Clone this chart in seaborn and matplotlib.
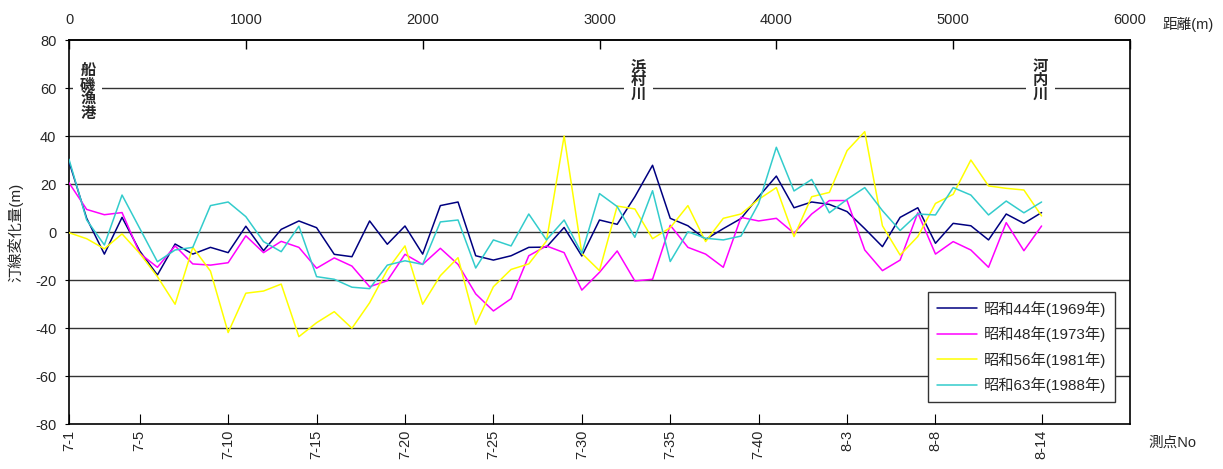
import matplotlib
matplotlib.use("Agg")
import matplotlib.pyplot as plt
import seaborn as sns
import pandas as pd

# ---------------- data ----------------
stations = [f"7-{i}" for i in range(1, 43)] + [f"8-{i}" for i in range(1, 15)]
distance_m = [0, 100, 200, 300, 400, 500, 600, 700, 800, 900,
              1000, 1100, 1200, 1300, 1400, 1500, 1600, 1700, 1800, 1900,
              2000, 2100, 2200, 2300, 2400, 2500, 2600, 2700, 2800, 2900,
              3000, 3100, 3200, 3300, 3400, 3500, 3600, 3700, 3800, 3900,
              4000, 4100, 4200, 4300, 4400, 4500, 4600, 4700, 4800, 4900,
              5000, 5100, 5200, 5300, 5400, 5500]

s1969 = [29.3, 5.7, -9.2, 6.1, -7.9, -17.9, -5.0, -9.2, -6.4, -8.6,
         2.4, -7.8, 1.1, 4.6, 1.8, -9.3, -10.3, 4.6, -5.1, 2.5,
         -9.2, 11.0, 12.5, -9.9, -11.7, -9.9, -6.4, -6.3, 1.9, -10.0,
         5.0, 3.2, 14.7, 27.8, 5.7, 2.6, -3.1, 1.4, 5.6, 14.7,
         23.3, 10.1, 12.5, 11.5, 8.5, 1.4, -6.1, 6.1, 10.1, -4.7,
         3.6, 2.6, -3.3, 7.5, 3.6, 8.1]
s1973 = [20.5, 9.4, 7.2, 8.1, -8.9, -14.7, -5.8, -13.3, -13.8, -12.8,
         -1.6, -8.6, -3.9, -6.4, -15.1, -10.8, -14.2, -22.8, -20.3, -9.3,
         -13.5, -6.8, -13.5, -25.8, -32.9, -27.8, -9.9, -5.8, -8.6, -24.2,
         -16.8, -7.9, -20.4, -19.7, 2.8, -6.4, -9.2, -14.7, 6.1, 4.6,
         5.7, -0.5, 7.5, 13.1, 13.1, -7.5, -16.1, -11.7, 8.0, -9.2,
         -4.0, -7.5, -14.7, 3.9, -7.8, 2.5]
s1981 = [-0.3, -2.8, -7.0, -0.8, -8.9, -18.6, -30.1, -6.4, -16.3, -41.9,
         -25.5, -24.6, -21.7, -43.6, -37.8, -33.2, -40.1, -29.5, -15.8, -5.8,
         -30.1, -18.2, -10.7, -38.5, -22.8, -15.6, -13.3, -3.8, 40.0, -8.9,
         -16.1, 10.8, 9.6, -2.8, 1.8, 11.0, -4.0, 5.7, 7.5, 13.6,
         18.5, -1.9, 14.7, 16.5, 33.9, 41.8, 2.6, -9.6, -1.9, 11.9,
         15.7, 30.0, 19.2, 18.2, 17.5, 6.7]
s1988 = [30.3, 5.0, -5.4, 15.4, 1.5, -12.4, -7.5, -6.4, 11.0, 12.5,
         6.4, -4.0, -8.2, 2.4, -18.6, -19.7, -23.0, -23.6, -13.8, -12.0,
         -13.5, 4.2, 5.0, -15.0, -3.3, -5.8, 7.5, -3.3, 5.0, -8.9,
         16.0, 10.6, -2.2, 17.2, -12.3, 0.1, -2.6, -3.3, -1.7, 11.9,
         35.3, 17.1, 21.9, 8.0, 13.6, 18.5, 8.9, 0.6, 7.5, 7.1,
         18.5, 15.4, 7.1, 12.9, 8.0, 12.5]

series_labels = ["昭和44年(1969年)", "昭和48年(1973年)", "昭和56年(1981年)", "昭和63年(1988年)"]
series_colors = ["#000080", "#FF00FF", "#FFFF00", "#33CCCC"]

tick_stations = ["7-1", "7-5", "7-10", "7-15", "7-20", "7-25", "7-30",
                 "7-35", "7-40", "8-3", "8-8", "8-14"]
top_ticks = [0, 1000, 2000, 3000, 4000, 5000, 6000]
y_ticks = [-80, -60, -40, -20, 0, 20, 40, 60, 80]

landmarks = ["船磯漁港", "浜村川", "河内川"]
landmark_x = [107, 3218, 5492]
landmark_y = [58, 63, 63]

# ---------------- frame ----------------
rows = []
for lab, vals in zip(series_labels, [s1969, s1973, s1981, s1988]):
    for st, d, v in zip(stations, distance_m, vals):
        rows.append({"station": st, "distance": d, "value": v, "series": lab})
df = pd.DataFrame(rows)

sns.set_style("white")
plt.rcParams["font.family"] = ["Liberation Sans", "Noto Sans CJK JP"]
plt.rcParams["axes.unicode_minus"] = False

fig = plt.figure(figsize=(12.23, 4.69), dpi=100)
ax = fig.add_axes([69 / 1223, 1 - 424 / 469, (1130 - 69) / 1223, (424 - 40) / 469])

for yv in y_ticks[1:-1]:
    ax.axhline(yv, color="#333333", lw=1.0, zorder=1)

sns.lineplot(data=df, x="distance", y="value", hue="series",
             palette=dict(zip(series_labels, series_colors)),
             hue_order=series_labels, lw=1.1, ax=ax, zorder=3, legend=True)

ax.set_xlim(0, 6000)
ax.set_ylim(-80, 80)
ax.set_yticks(y_ticks)
ax.set_yticklabels([str(v) for v in y_ticks], fontsize=10.5)
ax.tick_params(axis="y", direction="out", length=3, pad=6, left=True, color="black")

st_pos = [distance_m[stations.index(s)] for s in tick_stations]
ax.set_xticks(st_pos)
ax.set_xticklabels(tick_stations, rotation=90, fontsize=10.5, va="top")
ax.tick_params(axis="x", direction="in", length=7, pad=4, bottom=True, color="black")
ax.set_xlabel("")
ax.set_ylabel("汀線変化量(m)", fontsize=11)
ax.yaxis.set_label_coords(-0.043, 0.5)

secax = ax.secondary_xaxis("top")
secax.set_xticks(top_ticks)
secax.set_xticklabels([str(t) for t in top_ticks], fontsize=10.5)
secax.tick_params(direction="in", length=6.5, width=1.0, pad=9, color="black")
secax.spines["top"].set_linewidth(1.2)

for sp in ax.spines.values():
    sp.set_color("black")
    sp.set_linewidth(1.2)

for name, lx, ly in zip(landmarks, landmark_x, landmark_y):
    ax.text(lx, ly, "\n".join(name), ha="center", va="center", fontsize=11,
            fontweight="bold", linespacing=0.98, zorder=5,
            bbox=dict(facecolor="white", edgecolor="none", pad=5))

handles, labels = ax.get_legend_handles_labels()
leg = ax.legend(handles, labels, loc="lower right", bbox_to_anchor=(0.986, 0.057),
                borderaxespad=0, frameon=True, fancybox=False, framealpha=1,
                edgecolor="#333333", fontsize=11, handlelength=2.6,
                labelspacing=0.62, borderpad=0.6, handletextpad=0.45)
leg.get_frame().set_linewidth(1.0)

fig.text(1188 / 1223, 1 - 24 / 469, "距離(m)", ha="center", va="center", fontsize=10.5)
fig.text(1172 / 1223, 1 - 443 / 469, "測点No", ha="center", va="center", fontsize=10.5)

fig.savefig("out.png", dpi=100, facecolor="white")
